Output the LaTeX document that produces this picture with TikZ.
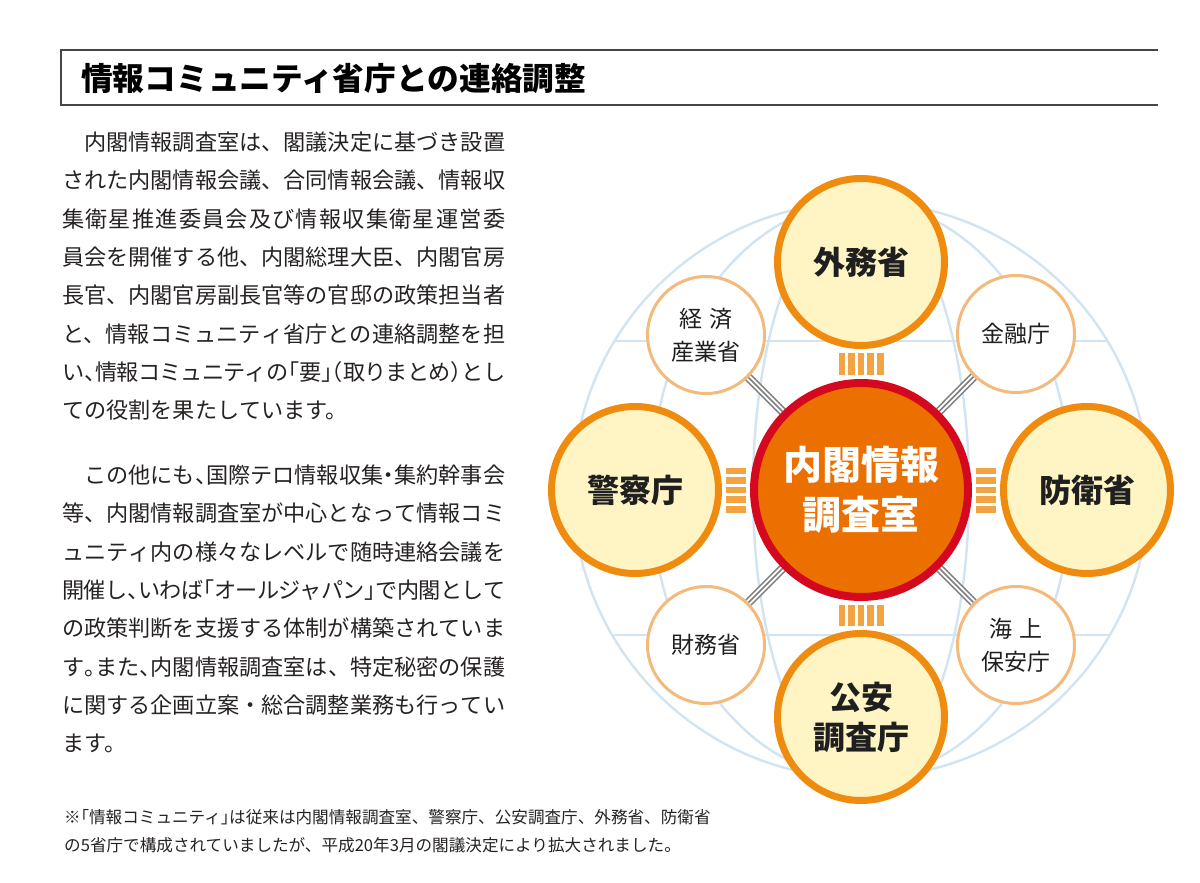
\documentclass[tikz,border=0pt]{standalone}
\usepackage{fontspec}
\setmainfont{Noto Sans CJK JP}
\newfontfamily\jphalt[RawFeature=+halt]{Noto Sans CJK JP}
\usepackage{tikz}
\usetikzlibrary{backgrounds}
\definecolor{globeline}{RGB}{210,227,242}
\definecolor{mainfill}{RGB}{255,244,196}
\definecolor{mainedge}{RGB}{239,140,16}
\definecolor{subedge}{RGB}{244,186,124}
\definecolor{hubfill}{RGB}{236,112,0}
\definecolor{hubring}{RGB}{212,8,30}
\definecolor{barorange}{RGB}{242,164,66}
\definecolor{linkgrey}{RGB}{125,125,125}
\definecolor{bodytext}{RGB}{38,34,34}
\definecolor{rulegrey}{RGB}{70,70,70}
\newcommand{\hk}[1]{{\jphalt #1}}
\XeTeXlinebreaklocale "ja"
\XeTeXlinebreakskip=0pt plus 3pt minus 1pt
\XeTeXlinebreakpenalty=10000

\begin{document}
\begin{tikzpicture}[
    x=1pt, y=-1pt,
    bigorg/.style={circle, draw=mainedge, line width=7pt, fill=mainfill, minimum size=167pt, inner sep=0pt, align=center, font=\fontsize{32}{40}\selectfont\bfseries, text=black!88},
    smallorg/.style={circle, draw=subedge, line width=3pt, fill=white, minimum size=117pt, inner sep=0pt, align=center, font=\fontsize{23}{33}\selectfont, text=black!88},
    hub/.style={circle, draw=hubring, line width=8pt, fill=hubfill, minimum size=214pt, inner sep=0pt, align=center, font=\fontsize{39}{50}\selectfont\bfseries, text=white},
    bodypara/.style={anchor=north west, inner sep=0pt, text width=443pt, align=justify, font=\fontsize{22.15}{38.3}\selectfont, text=bodytext},
    globe/.style={draw=globeline, line width=2.4pt},
    barlink/.style={draw=barorange, line width=45pt, shorten <=4pt, shorten >=4pt,
        postaction={draw=white, line width=31.8pt},
        postaction={draw=barorange, line width=25.8pt},
        postaction={draw=white, line width=12.6pt},
        postaction={draw=barorange, line width=6.6pt}},
    greylink/.style={draw=linkgrey, line width=8.8pt,
        postaction={draw=white, line width=5.6pt},
        postaction={draw=linkgrey, line width=1.6pt}}
]
    \useasboundingbox (0,0) rectangle (1200,883);

    % Title bar
    \draw[rulegrey, line width=1.5pt] (1158,50) -- (61,50) -- (61,105) -- (1158,105);
    \node[anchor=west, inner sep=0pt, font=\fontsize{31.7}{36}\selectfont\bfseries] (title) at (81,79) {情報コミュニティ省庁との連絡調整};

    % Body text
    \node[bodypara] (para_one) at (62,120.4) {\rule{0pt}{30pt}　内閣情報調査室は、閣議決定に基づき設置\linebreak
        された内閣情報会議、合同情報会議、情報収\linebreak
        集衛星推進委員会及び情報収集衛星運営委\linebreak
        員会を開催する他、内閣総理大臣、内閣官房\linebreak
        長官、内閣官房副長官等の官邸の政策担当者\linebreak
        と、情報コミュニティ省庁との連絡調整を担\linebreak
        い\hk{、}情報コミュニティの\hk{「}要\hk{」（}取りまとめ\hk{）}とし\linebreak
        ての役割を果たしています。};
    \node[bodypara] (para_two) at (62,453.4) {\rule{0pt}{30pt}　この他にも\hk{、}国際テロ情報収集\hk{・}集約幹事会\linebreak
        等、内閣情報調査室が中心となって情報コミ\linebreak
        ュニティ内の様々なレベルで随時連絡会議を\linebreak
        開催し\hk{、}いわば\hk{「}オールジャパン\hk{」}で内閣として\linebreak
        の政策判断を支援する体制が構築されていま\linebreak
        す\hk{。}また\hk{、}内閣情報調査室は、特定秘密の保護\linebreak
        に関する企画立案・総合調整業務も行ってい\linebreak
        ます。};

    % Footnote
    \node[anchor=north west, inner sep=0pt, align=left, font=\fontsize{16.6}{28}\selectfont, text=bodytext] (note) at (64,798.3)
        {\rule{0pt}{25pt}※\hk{「}情報コミュニティ\hk{」}は従来は内閣情報調査室、警察庁、公安調査庁、外務省、防衛省\\
        の5省庁で構成されていましたが、平成20年3月の閣議決定により拡大されました。};

    % Community members
    \node[hub] (naicho) at (861,490) {内閣情報\\調査室};
    \node[bigorg] (gaimu) at (861,262) {外務省};
    \node[bigorg] (keisatsu) at (635,490) {警察庁};
    \node[bigorg] (boei) at (1087,490) {防衛省};
    \node[bigorg] (koan) at (861,717) {公安\\調査庁};

    \node[smallorg] (keisan) at (706,335) {経\hspace{0.3em}済\\産業省};
    \node[smallorg] (kinyu) at (1016,334) {金融庁};
    \node[smallorg] (zaimu) at (706,645) {財務省};
    \node[smallorg] (kaijo) at (1016,645) {海\hspace{0.3em}上\\保安庁};

    \begin{scope}[on background layer]
        % Globe behind the circles
        \draw[globe] (861,490) circle[radius=288];
        \draw[globe] (861,490) ellipse[x radius=210, y radius=288];
        \draw[globe] (861,490) ellipse[x radius=108, y radius=288];
        \draw[globe] (614.5,341) -- (1107.5,341);
        \draw[globe] (612.2,635) -- (1109.8,635);

        % Links to the centre
        \draw[barlink] (naicho) -- (gaimu);
        \draw[barlink] (naicho) -- (keisatsu);
        \draw[barlink] (naicho) -- (boei);
        \draw[barlink] (naicho) -- (koan);
        \draw[greylink] (naicho) -- (keisan);
        \draw[greylink] (naicho) -- (kinyu);
        \draw[greylink] (naicho) -- (zaimu);
        \draw[greylink] (naicho) -- (kaijo);
    \end{scope}
\end{tikzpicture}
\end{document}
